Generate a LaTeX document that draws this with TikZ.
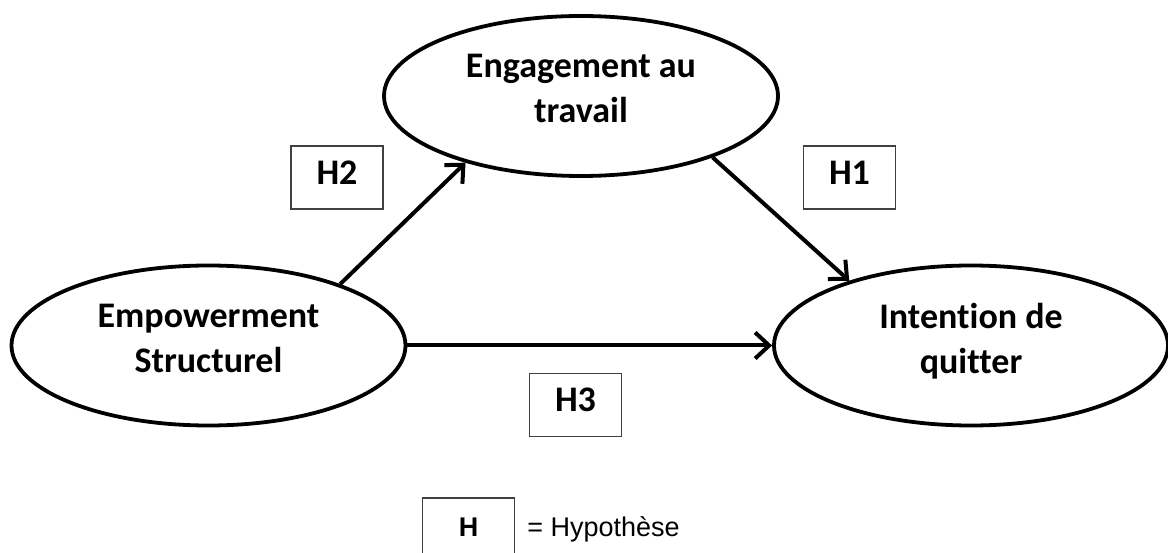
\documentclass[tikz,border=0pt]{standalone}
\usepackage{fontspec}
\setmainfont{Carlito}[Ligatures=NoCommon]
\newfontfamily\arialfont{Liberation Sans}
\usepackage{tikz}
\usetikzlibrary{arrows.meta}
\usetikzlibrary{shapes.geometric}

\tikzset{
  bubble/.style={draw, ellipse, line width=3.8pt, minimum width=394pt, minimum height=160pt, inner sep=0pt},
  bubtxt/.style={align=center, font=\fontsize{36}{45}\selectfont\bfseries, inner sep=0pt},
  hypbox/.style={draw=black!75, line width=1.5pt, minimum width=92pt, minimum height=63pt,
    text height=24pt, text depth=10pt, inner sep=0pt, font=\fontsize{36}{40}\selectfont\bfseries},
  link/.style={line width=4pt, -{Straight Barb[length=14pt,width=26pt]}}
}

\begin{document}
\begin{tikzpicture}[x=1pt,y=-1pt]
\useasboundingbox (0,0) rectangle (1168,553);

% the three variables
\node[bubble] (eng) at (581,96) {};
\node[bubble] (emp) at (208.5,345.5) {};
\node[bubble] (int) at (971,345.5) {};
\node[bubtxt] (engtxt) at (581,88.5) {Engagement au\\travail};
\node[bubtxt] (emptxt) at (208.5,338.5) {Empowerment\\Structurel};
\node[bubtxt] (inttxt) at (971,341.5) {Intention de\\quitter};

% hypotheses
\node[hypbox] (h2) at (337,177.5) {H2};
\node[hypbox] (h1) at (849.5,177.5) {H1};
\node[hypbox] (h3) at (575.5,405) {H3};

\draw[link] (emp.25) -- (eng.210);
\draw[link] (eng.-25) -- (int.152);
\draw[link] (emp.east) -- (int.west);

% legend
\node[hypbox, minimum height=58pt, text height=, text depth=, font=\arialfont\fontsize{27}{32}\selectfont\bfseries] (legend) at (468.5,527) {H};
\node[anchor=base west, inner sep=0pt, xshift=12pt, font=\arialfont\fontsize{27}{32}\selectfont] (legtxt) at (legend.base east) {= Hypothèse};
\end{tikzpicture}
\end{document}
